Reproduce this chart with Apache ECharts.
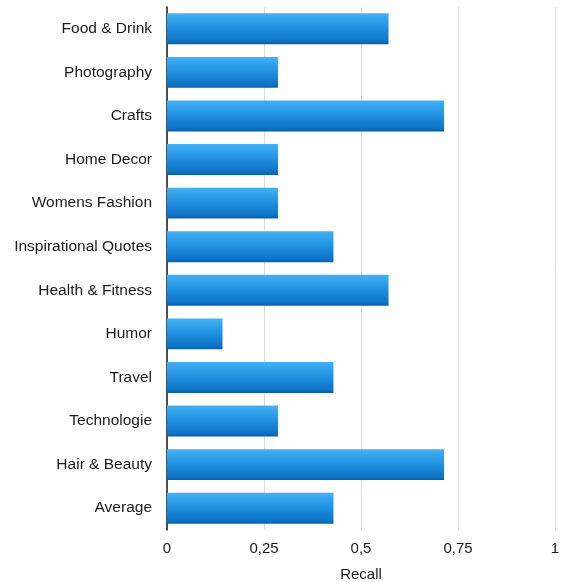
<!DOCTYPE html>
<html><head><meta charset="utf-8">
<script src="https://cdn.jsdelivr.net/npm/echarts@6/dist/echarts.min.js"></script>
<style>html,body{margin:0;padding:0;background:#fff}#c{width:562px;height:582px}</style>
</head><body><div id="c"></div>
<script>
const categories = ["Food & Drink","Photography","Crafts","Home Decor","Womens Fashion","Inspirational Quotes","Health & Fitness","Humor","Travel","Technologie","Hair & Beauty","Average"];
const recall = [0.571,0.286,0.714,0.286,0.286,0.429,0.571,0.143,0.429,0.286,0.714,0.429];
const xTicks = [0,0.25,0.5,0.75,1];
const xAxisTitle = "Recall";

const chart = echarts.init(document.getElementById('c'), null, {renderer:'canvas'});
chart.setOption({
  animation:false,
  grid:{left:167,right:7,top:7,bottom:52,containLabel:false,outerBoundsMode:'none'},
  xAxis:{type:'value',min:0,max:1,interval:0.25,
    name:xAxisTitle,nameLocation:'middle',nameGap:37,
    nameTextStyle:{fontFamily:'Liberation Sans, Arial',fontSize:15,color:'#1a1a1a'},
    axisLine:{show:false},axisTick:{show:false},
    axisLabel:{fontFamily:'Liberation Sans, Arial',fontSize:15,color:'#1a1a1a',margin:11,
      formatter:v=>String(v).replace('.',',')},
    splitLine:{show:true,lineStyle:{color:'#dcdcdc',width:1}}},
  yAxis:{type:'category',data:categories,inverse:true,
    axisLine:{show:true,lineStyle:{color:'#1a1a1a',width:1.5}},axisTick:{show:false},
    axisLabel:{fontFamily:'Liberation Sans, Arial',fontSize:15.5,color:'#1a1a1a',margin:15},
    splitLine:{show:false}},
  series:[{type:'bar',data:recall,barCategoryGap:'29%',
    itemStyle:{color:new echarts.graphic.LinearGradient(0,0,0,1,[
      {offset:0,color:'#44b1f4'},{offset:0.5,color:'#1f8fe0'},{offset:0.9,color:'#0d72c4'},{offset:1,color:'#085fa8'}])}}]
});
</script></body></html>
